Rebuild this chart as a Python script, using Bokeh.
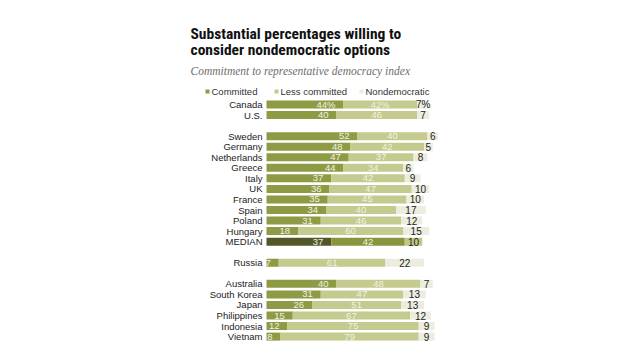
from bokeh.plotting import figure
from bokeh.models import Range1d, ColumnDataSource
from bokeh.core.properties import value
from bokeh.embed import file_html
from bokeh.resources import INLINE

# ---------------- data ----------------
groups = [
    ["Canada", "U.S."],
    ["Sweden", "Germany", "Netherlands", "Greece", "Italy", "UK", "France",
     "Spain", "Poland", "Hungary", "MEDIAN"],
    ["Russia"],
    ["Australia", "South Korea", "Japan", "Philippines", "Indonesia", "Vietnam"],
]
committed = [44, 40, 52, 48, 47, 44, 37, 36, 35, 34, 31, 18, 37, 7, 40, 31, 26, 15, 12, 8]
less_committed = [42, 46, 40, 42, 37, 34, 42, 47, 45, 40, 46, 60, 42, 61, 48, 47, 51, 67, 75, 79]
nondemocratic = [7, 7, 6, 5, 8, 6, 9, 10, 10, 17, 12, 15, 10, 22, 7, 13, 13, 12, 9, 9]
series_names = ["Committed", "Less committed", "Nondemocratic"]

title_lines = ["Substantial percentages willing to", "consider nondemocratic options"]
subtitle = "Commitment to representative democracy index"

# ---------------- layout ----------------
W, H = 624, 344
X0 = 266.0        # canvas px of 0 %
PXPCT = 1.75      # px per percent
Y0 = 104.0        # canvas px of first row
ROW = 10.55       # px per row slot

countries, slots = [], []
s = 0
for g in groups:
    for c in g:
        countries.append(c)
        slots.append(s)
        s += 1
    s += 1

def dx(px):
    return (px - X0) / PXPCT

def dy(py):
    return (py - Y0) / ROW

C_COM = "#8f9a45"
C_LESS = "#c5ca8e"
C_NON = "#ecedde"
M_COM = "#535727"
M_LESS = "#8a963f"
M_NON = "#c2c789"

p = figure(width=W, height=H, output_backend="svg", toolbar_location=None,
           x_range=Range1d(dx(0), dx(W)), y_range=Range1d(dy(H), dy(0)),
           min_border=0, outline_line_color=None)
p.axis.visible = False
p.grid.visible = False
p.background_fill_color = "white"

is_med = [c == "MEDIAN" for c in countries]
left1 = [0] * len(countries)
right1 = committed
left2 = committed
right2 = [a + b for a, b in zip(committed, less_committed)]
left3 = right2
right3 = [a + b for a, b in zip(right2, nondemocratic)]

src = ColumnDataSource(dict(
    y=slots, country=countries,
    l1=left1, r1=right1, l2=left2, r2=right2, l3=left3, r3=right3,
    c1=[M_COM if m else C_COM for m in is_med],
    c2=[M_LESS if m else C_LESS for m in is_med],
    c3=[M_NON if m else C_NON for m in is_med],
    t1=[f"{v}%" if c == "Canada" else str(v) for v, c in zip(committed, countries)],
    t2=[f"{v}%" if c == "Canada" else str(v) for v, c in zip(less_committed, countries)],
    t3=[f"{v}%" if c == "Canada" else str(v) for v, c in zip(nondemocratic, countries)],
    m2=[(a + b) / 2 for a, b in zip(left2, right2)],
    m3=[(a + b) / 2 for a, b in zip(left3, right3)],
))

BH = 0.76
p.hbar(y="y", left="l1", right="r1", height=BH, fill_color="c1", line_color=None, source=src)
p.hbar(y="y", left="l2", right="r2", height=BH, fill_color="c2", line_color=None, source=src)
p.hbar(y="y", left="l3", right="r3", height=BH, fill_color="c3", line_color=None, source=src)

SANS = value("Liberation Sans")
p.text(x="r1", y="y", text="t1", source=src, x_offset=-8, text_align="right",
       text_baseline="middle", text_font=SANS, text_font_size="9.5px",
       text_color="#f1f2e2")
p.text(x="m2", y="y", text="t2", source=src, text_align="center",
       text_baseline="middle", text_font=SANS, text_font_size="9.5px",
       text_color="#f1f2e2")
p.text(x="m3", y="y", text="t3", source=src, text_align="center",
       text_baseline="middle", text_font=SANS, text_font_size="10px",
       text_color="#222222")
p.text(x=dx(262), y="y", text="country", source=src, text_align="right",
       text_baseline="middle", text_font=SANS, text_font_size="9.5px",
       text_color="#222222")

# title
p.text(x=[dx(190)] * 2, y=[dy(33), dy(49)], text=title_lines, text_align="left",
       text_baseline="middle", text_font=value("Liberation Sans Narrow, Roboto Condensed, Roboto"),
       text_font_style="bold", text_font_size="15.5px", text_color="#111111")
p.text(x=[dx(190)], y=[dy(70)], text=[subtitle], text_align="left",
       text_baseline="middle", text_font=value("Liberation Serif"),
       text_font_style="italic", text_font_size="11.5px", text_color="#6e6e6e")

# legend
leg_sq_x = [207, 276, 361]
leg_cols = [C_COM, C_LESS, C_NON]
p.rect(x=[dx(v) for v in leg_sq_x], y=[dy(91)] * 3, width=4, height=4,
       width_units="screen", height_units="screen", fill_color=leg_cols, line_color=None)
p.text(x=[dx(v + 4) for v in leg_sq_x], y=[dy(91)] * 3, text=series_names,
       text_align="left", text_baseline="middle", text_font=SANS,
       text_font_size="9.5px", text_color="#333333")

open("out.html", "w").write(file_html(p, INLINE))
